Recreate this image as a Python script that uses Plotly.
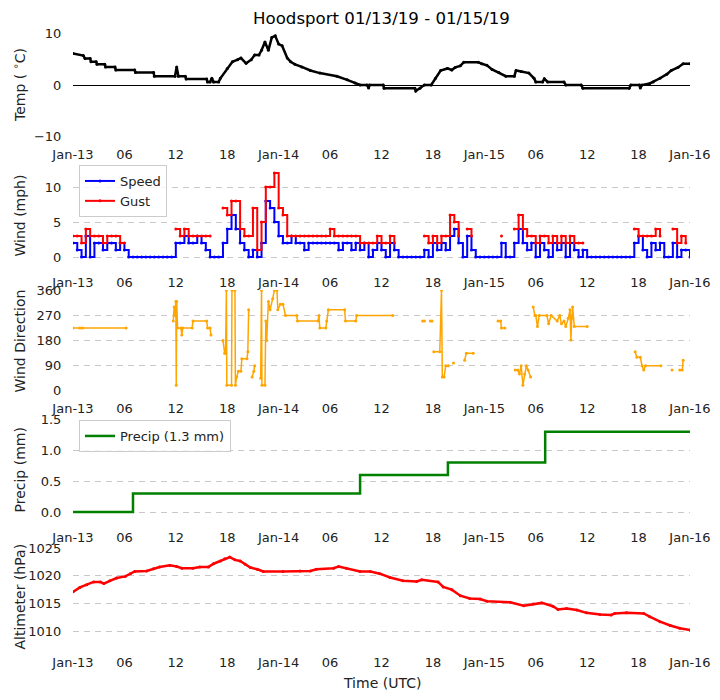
import pandas as pd
import plotly.graph_objects as go
from plotly.subplots import make_subplots

# start of the record, all times below are hours after this
BASE = pd.Timestamp("2019-01-13 00:00")

# temperature (deg C)
temp_hours = [0, 1.2, 1.4, 2, 2.1, 2.7, 2.8, 3.7, 3.8, 4.9, 5.0, 7.2, 7.3, 9.4, 9.5, 11.9,
              12.1, 12.3, 13.1, 13.2, 15.6, 15.7, 16.0, 16.2, 16.4, 17.0, 17.2, 18.0, 18.6,
              19.2, 19.6, 20.2, 20.8, 21.2, 21.7, 22.0, 22.4, 22.8, 23.2, 23.6, 24.0, 24.4,
              25.0, 25.4, 25.9, 26.7, 27.7, 28.8, 30.8, 32.0, 32.9, 33.5, 34.3, 34.5, 34.6,
              36.2, 36.3, 39.9, 40.0, 40.5, 41.0, 41.8, 42.3, 42.9, 43.7, 44.2, 44.6, 45.2,
              45.6, 47.3, 47.7, 48.3, 48.9, 49.7, 50.5, 51.5, 51.7, 52.3, 53.2, 53.8, 54.0,
              54.8, 55.0, 55.4, 57.3, 57.5, 59.3, 59.5, 64.9, 65.1, 66.1, 66.2, 66.4, 67.3,
              67.7, 68.5, 69.3, 69.8, 70.6, 71.2, 72.0]
temp_c = [6.1, 5.7, 5.1, 5.1, 4.5, 4.5, 4.0, 4.0, 3.5, 3.5, 2.9, 2.9, 2.4, 2.4, 1.7, 1.7,
          3.5, 1.7, 1.7, 1.15, 1.15, 0.6, 0.6, 1.3, 0.6, 0.6, 1.3, 3.2, 4.5,
          4.9, 5.2, 4.2, 4.9, 5.8, 5.8, 6.7, 8.3, 6.7, 9.2, 9.5, 7.9, 7.6,
          5.2, 4.5, 4.0, 3.5, 2.8, 2.3, 1.7, 1.0, 0.4, 0.0, 0.0, -0.6, 0.0,
          0.0, -0.65, -0.65, -1.15, -0.65, 0.0, 0.0, 1.3, 2.8, 3.2, 2.9, 3.4, 3.7,
          4.4, 4.4, 4.1, 3.8, 3.0, 2.4, 1.7, 1.7, 2.8, 2.6, 2.3, 1.3, 0.6,
          0.6, 1.2, 0.6, 0.6, 0.0, 0.0, -0.65, -0.65, 0.0, 0.0, -0.6, 0.0, 0.3,
          0.6, 1.3, 2.1, 2.8, 3.4, 4.1, 4.1]

# wind speed / gust (mph), one reading every 30 minutes from 00Z Jan-13
wind_speed = [2, 1, 0, 3, 0, 2, 2, 1, 2, 2, 1, 2,
              1, 0, 0, 0, 0, 0, 0, 0, 0, 0, 0, 0,
              2, 2, 3, 2, 2, 3, 2, 1, 0, 0, 0, 2,
              4, 6, 4, 2, 1, 0, 1, 0, 2, 8, 7, 5,
              3, 2, 2, 3, 2, 2, 1, 2, 2, 2, 2, 2,
              2, 2, 1, 2, 2, 1, 2, 1, 2, 0, 1, 2,
              1, 0, 2, 1, 0, 0, 0, 0, 0, 0, 1, 0,
              2, 1, 2, 1, 3, 4, 2, 0, 3, 1, 0, 0,
              0, 0, 0, 0, 2, 0, 0, 2, 4, 2, 1, 2,
              0, 2, 1, 0, 2, 1, 2, 0, 2, 1, 0, 1,
              0, 0, 0, 0, 0, 0, 0, 0, 0, 0, 0, 2,
              3, 1, 0, 2, 1, 2, 0, 0, 2, 0, 1, 1,
              0]
N = None
wind_gust = [3, 3, 2, 4, 3, 3, 3, 2, 3, 3, 3, 2,
             2, N, N, N, N, N, N, N, N, N, N, N,
             4, 3, 4, 3, 3, 3, 3, 3, 3, N, N, 7,
             6, 8, 8, 4, 3, 3, 7, 1, 5, 10, 10, 12,
             7, 6, 3, 3, 3, 3, 3, 3, 3, 3, 3, 3,
             4, 3, 3, 3, 3, 3, 3, 2, 2, 2, 2, 3,
             2, 2, 3, 2, N, N, N, N, N, N, 3, 2,
             3, 2, 3, 3, 6, 5, 3, N, 4, 3, N, N,
             N, N, N, N, 3, N, N, 4, 6, 4, 3, 3,
             2, 3, 3, 2, 3, 2, 3, 2, 3, 2, 2, 2,
             N, N, N, N, N, N, N, N, N, N, N, 4,
             3, 3, 3, 3, 4, 3, N, N, 4, 2, 3, 2,
             N]

# wind direction (deg), None marks a gap in the record
dir_hours = [0, 0.8, 0.9, 1.1, 6.2, 6.5,
             11.7, 11.8, 11.9, 12.0, 12.05, 12.1, 12.2, 12.6, 12.7, 12.8, 13.9, 14.0, 15.6,
             15.7, 16.0, 16.1, 16.3,
             17.5, 17.7, 17.8, 17.9, 17.95, 18.5, 18.55, 18.9, 18.95, 19.1, 19.3, 19.6, 19.7,
             20.3, 20.4, 20.5, 20.6,
             20.9, 21.1, 21.2, 21.3,
             21.9, 22.0, 22.05, 22.4, 22.5, 22.6, 22.8, 23.0, 23.3, 23.5, 23.8, 23.9, 24.2,
             24.5, 24.8, 26.1, 26.2, 28.6, 28.7, 28.8, 29.5, 29.6, 29.8, 31.7, 31.8, 33.0,
             33.1, 37.3, 37.5,
             40.8, 41.0, 41.2, 41.7, 41.9, 42.0,
             42.1, 42.8, 43.0, 43.1, 43.3, 43.5, 43.8, 44.0, 44.4, 44.5,
             45.7, 45.9, 46.7, 46.9,
             49.6, 49.9, 50.0, 50.4, 50.6,
             51.6, 51.9, 52.1, 52.3, 52.5, 52.7, 52.9, 53.1, 53.4, 53.6,
             53.7, 53.9, 54.0, 54.2, 54.4, 55.3, 55.5, 55.8, 56.5, 56.8, 57.0, 57.3, 57.5,
             57.8, 58.0, 58.1, 58.2, 58.3, 58.5, 60.0, 60.2,
             65.6, 65.8, 66.2, 66.4, 66.6, 66.8, 68.6, 68.8,
             69.9, 70.1, 70.8, 71.1, 71.2, 71.3]
dir_deg = [225, 225, N, 225, 225, N,
           250, 300, 270, 320, 20, 320, 225, 225, 200, 225, 225, 250, 250,
           225, 225, 200, N,
           180, 135, 135, 360, 20, 20, 360, 360, 20, 50, 70, 70, 115,
           115, 140, 290, N,
           50, 70, 90, N,
           45, 360, 20, 20, 250, 180, 320, 290, 330, 360, 360, 290, 310,
           310, 270, 270, 250, 250, 270, 225, 225, 250, 290, 290, 250, 250,
           270, 270, N,
           250, 250, N, 250, 250, N,
           140, 140, 360, 50, 50, 90, 90, N, 100, N,
           110, 135, 135, N,
           250, 250, 225, 225, N,
           75, 75, 60, 90, 20, 60, 90, 75, 50, N,
           300, 270, 270, 230, 270, 270, 240, 270, 250, 270, 240, 250, 230,
           260, 290, 182, 260, 300, 230, 230, N,
           140, 120, 120, 90, 75, 90, 90, N,
           75, N, 75, 75, 110, N]

# accumulated precipitation (mm)
precip_hours = [0, 7.0, 33.5, 43.75, 55.1, 72]
precip_mm = [0.0, 0.3, 0.6, 0.8, 1.3, 1.3]

# altimeter (hPa)
alt_hours = [0, 0.8, 1.6, 2.4, 3.2, 3.6, 4.3, 5.1, 6.1, 6.7, 7.2, 8.6, 9.4, 10.1, 11.3, 12.1,
             12.7, 14.0, 14.8, 15.8, 16.4, 17.2, 17.7, 18.3, 18.9, 19.5, 20.1, 20.7, 21.5,
             22.2, 24.5, 26.5, 27.7, 28.4, 30.4, 31.0, 31.9, 33.5, 34.7, 35.8, 37.0, 38.5,
             40.1, 40.7, 42.6, 43.2, 44.2, 45.2, 46.3, 47.5, 48.3, 51.0, 52.6, 53.7, 54.7,
             56.0, 56.6, 57.6, 58.8, 59.9, 61.5, 62.8, 63.2, 64.6, 66.6, 67.3, 68.5, 69.7,
             70.8, 72.0]
alt_hpa = [1017.1, 1017.9, 1018.4, 1018.9, 1018.9, 1018.6, 1019.1, 1019.6, 1019.9, 1020.4,
           1020.8, 1020.9, 1021.3, 1021.6, 1021.9, 1021.7, 1021.4, 1021.4, 1021.6, 1021.6,
           1022.2, 1022.7, 1023.1, 1023.4, 1022.9, 1022.7, 1022.1, 1021.5, 1021.2, 1020.8,
           1020.8, 1020.9, 1020.9, 1021.2, 1021.4, 1021.7, 1021.4, 1020.8, 1020.8, 1020.4,
           1019.7, 1019.1, 1019.0, 1019.3, 1018.9, 1018.0, 1017.5, 1016.4, 1015.9, 1015.8,
           1015.4, 1015.2, 1014.6, 1014.9, 1015.1, 1014.5, 1013.9, 1014.1, 1013.8, 1013.3,
           1013.0, 1012.9, 1013.2, 1013.3, 1013.2, 1012.6, 1011.7, 1011.0, 1010.5, 1010.2]

tick_labels = ["Jan-13", "06", "12", "18", "Jan-14", "06", "12", "18",
               "Jan-15", "06", "12", "18", "Jan-16"]
tick_times = pd.date_range(BASE, periods=len(tick_labels), freq="6h")


def to_time(hours):
    return BASE + pd.to_timedelta(hours, unit="h")


wind_times = pd.date_range(BASE, periods=len(wind_speed), freq="30min")

fig = make_subplots(rows=5, cols=1)

FONT = "DejaVu Sans, Verdana, sans-serif"

fig.add_trace(go.Scatter(x=to_time(temp_hours), y=temp_c, mode="lines+markers",
                         line=dict(color="black", width=2.5), marker=dict(size=3, color="black"),
                         showlegend=False), row=1, col=1)

fig.add_trace(go.Scatter(x=wind_times, y=wind_speed, mode="lines+markers", name="Speed",
                         line=dict(color="blue", width=2, shape="hv"),
                         marker=dict(size=3, color="blue"), legend="legend"), row=2, col=1)
fig.add_trace(go.Scatter(x=wind_times, y=wind_gust, mode="lines+markers", name="Gust",
                         line=dict(color="red", width=2, shape="hv"),
                         marker=dict(size=3, color="red"), legend="legend"), row=2, col=1)

fig.add_trace(go.Scatter(x=to_time(dir_hours), y=dir_deg, mode="lines+markers",
                         line=dict(color="orange", width=1.5), marker=dict(size=3, color="orange"),
                         showlegend=False), row=3, col=1)

fig.add_trace(go.Scatter(x=to_time(precip_hours), y=precip_mm, mode="lines",
                         name="Precip (1.3 mm)", line=dict(color="green", width=2.5, shape="hv"),
                         legend="legend2"), row=4, col=1)

fig.add_trace(go.Scatter(x=to_time(alt_hours), y=alt_hpa, mode="lines+markers",
                         line=dict(color="red", width=2.5), marker=dict(size=3, color="red"),
                         showlegend=False), row=5, col=1)

# the page puts the figure 8px in from the top-left corner
OFF = 8
W, H = 720 - OFF, 700 - OFF


def fy(py):
    # reference pixel row -> paper fraction
    return 1 - (py - OFF) / H


# (top px, bottom px, y range, ticks, format) for each panel
panels = [
    (33, 137, [-10.05, 10.05], [-10, 0, 10], None),
    (166, 265, [-1.14, 13.0], [0, 5, 10], None),
    (290, 391, [-0.5, 361], [0, 90, 180, 270, 360], None),
    (419, 520, [-0.129, 1.505], [0.0, 0.5, 1.0, 1.5], ".1f"),
    (548, 645, [1007.47, 1025.05], [1010, 1015, 1020, 1025], None),
]
ytitles = ["Temp ( <sup>∘</sup>C)", "Wind (mph)", "Wind Direction", "Precip (mm)", "Altimeter (hPa)"]

for i, (top, bot, rng, tv, fmt) in enumerate(panels, start=1):
    fig.update_yaxes(row=i, col=1, domain=[fy(bot), fy(top)], range=rng, tickvals=tv,
                     tickformat=fmt, showgrid=True, gridcolor="#c8c8c8", griddash="6px,5px",
                     gridwidth=1, zeroline=(i == 1), zerolinecolor="black", zerolinewidth=1,
                     showline=False, ticks="outside", ticklen=8, tickcolor="rgba(0,0,0,0)",
                     automargin=False,
                     tickfont=dict(size=13, color="#222", family=FONT))
    fig.update_xaxes(row=i, col=1, range=[tick_times[0], tick_times[-1]], tickvals=tick_times,
                     ticktext=tick_labels, showgrid=False, zeroline=False, showline=False,
                     ticks="outside", ticklen=5, tickcolor="rgba(0,0,0,0)", automargin=False,
                     tickfont=dict(size=13, color="#222", family=FONT))
    fig.add_annotation(text=ytitles[i - 1], xref="paper", yref="paper", x=(19 - 73) / 617.0,
                       y=fy((top + bot) / 2), textangle=-90, showarrow=False,
                       xanchor="center", yanchor="middle",
                       font=dict(size=14, color="#222", family=FONT))

fig.add_annotation(text="Time (UTC)", xref="paper", yref="paper", x=0.5, y=fy(683),
                   showarrow=False, xanchor="center", yanchor="middle",
                   font=dict(size=14, color="#222", family=FONT))

legend_style = dict(bgcolor="rgba(255,255,255,0.8)", bordercolor="#cccccc", borderwidth=1,
                    font=dict(size=13, color="#222", family=FONT), xanchor="left", yanchor="top",
                    tracegroupgap=0, itemwidth=30)

fig.update_layout(
    width=W, height=H,
    margin=dict(l=73 - OFF, r=30, t=0, b=0, autoexpand=False),
    paper_bgcolor="white", plot_bgcolor="white",
    title=dict(text="Hoodsport 01/13/19 - 01/15/19", x=0.5, xanchor="center",
               xref="paper", y=fy(18), yanchor="middle",
               font=dict(size=16.6, color="black", family=FONT)),
    legend=dict(x=(79 - 73) / 617.0, y=fy(165), **legend_style),
    legend2=dict(x=(79 - 73) / 617.0, y=fy(420), **legend_style),
)

fig.write_html("out.html")
